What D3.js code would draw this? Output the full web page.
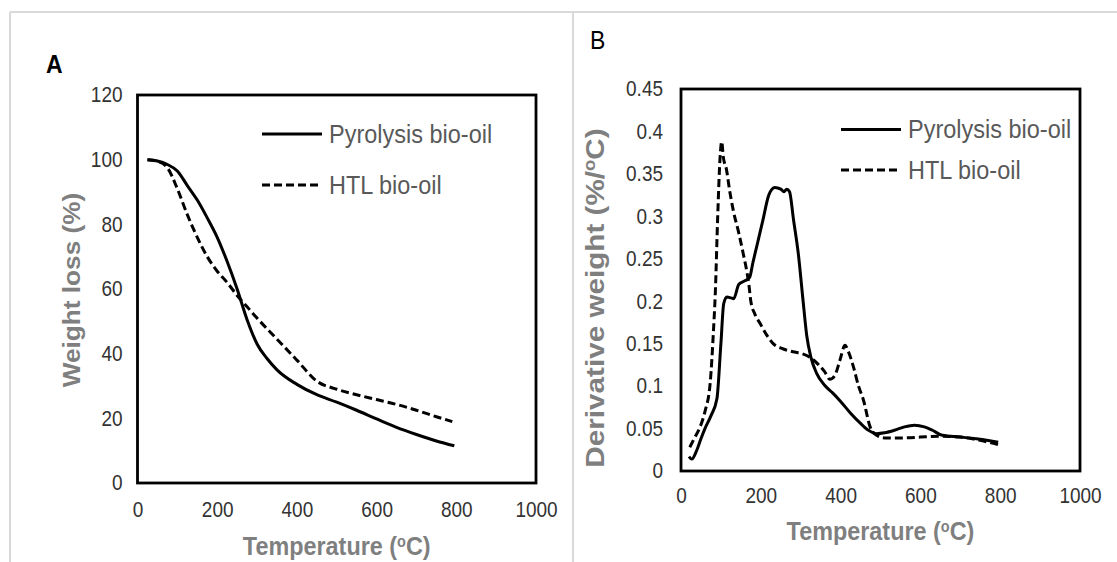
<!DOCTYPE html>
<html>
<head>
<meta charset="utf-8">
<script src="https://cdn.jsdelivr.net/npm/d3@7"></script>
<style>
  body { margin: 0; background: #fff; }
  svg { display: block; font-family: "Liberation Sans", Arial, sans-serif; }
</style>
</head>
<body>
<script>
//-----------------Data----------------
const xTicks = [0, 200, 400, 600, 800, 1000];
const lossTicks = [0, 20, 40, 60, 80, 100, 120];
const dtgTicks = [0, 0.05, 0.1, 0.15, 0.2, 0.25, 0.3, 0.35, 0.4, 0.45];
const seriesNames = ["Pyrolysis bio-oil", "HTL bio-oil"];

// panel A: weight loss (%) vs temperature
const pyroLoss = [[25,100],[50,99.6],[75,98.5],[100,96.5],[125,92],[150,87.5],[175,82],[200,76],[225,68.5],[250,60],[275,50.5],[300,43],[325,38.5],[350,35],[400,30.5],[450,27.3],[500,25],[550,22.5],[600,19.8],[650,17.2],[700,15],[750,13],[795,11.5]];
const htlLoss = [[25,100],[50,99.5],[75,97.5],[100,91],[125,83],[150,76],[175,70],[200,65.5],[225,62],[250,58],[275,54.5],[300,51],[350,44.5],[400,38],[450,31.5],[500,29],[550,27.3],[600,25.8],[650,24.3],[700,22.5],[750,20.5],[790,19]];

// panel B: derivative weight (%/oC) vs temperature
const pyroDtg = [[20,0.017],[27,0.014],[40,0.025],[50,0.038],[60,0.05],[75,0.065],[90,0.085],[100,0.15],[107,0.197],[115,0.205],[125,0.204],[132,0.203],[145,0.22],[160,0.224],[172,0.228],[180,0.245],[190,0.265],[205,0.295],[220,0.325],[235,0.334],[250,0.332],[258,0.329],[265,0.332],[272,0.329],[282,0.296],[294,0.256],[305,0.205],[315,0.16],[325,0.135],[340,0.115],[360,0.101],[380,0.092],[400,0.082],[425,0.068],[450,0.056],[470,0.048],[490,0.044],[510,0.045],[535,0.048],[560,0.052],[585,0.054],[610,0.052],[630,0.048],[655,0.042],[700,0.04],[740,0.038],[770,0.036],[795,0.034]];
const htlDtg = [[22,0.028],[35,0.04],[48,0.052],[60,0.07],[73,0.103],[81,0.162],[86,0.21],[92,0.3],[98,0.37],[102,0.388],[106,0.37],[114,0.355],[122,0.33],[131,0.307],[145,0.28],[156,0.256],[165,0.235],[170,0.22],[175,0.2],[185,0.185],[198,0.174],[215,0.16],[231,0.15],[255,0.144],[281,0.1405],[305,0.138],[323,0.134],[345,0.125],[360,0.117],[373,0.108],[385,0.112],[398,0.13],[411,0.148],[420,0.14],[432,0.123],[445,0.1],[457,0.084],[474,0.052],[490,0.042],[510,0.039],[560,0.039],[600,0.04],[650,0.041],[700,0.04],[740,0.037],[770,0.034],[795,0.031]];

//-----------------Setup----------------
const width = 1117, height = 562;
const sy = 1.12; // the picture's text is a bit stretched vertically

const svg = d3.select("body").append("svg").attr("width", width).attr("height", height);

// light gray chart-area frames
const frame = svg.append("g").attr("stroke", "#d9d9d9").attr("stroke-width", 2).attr("fill", "none");
frame.append("line").attr("x1", 10).attr("x2", width).attr("y1", 12).attr("y2", 12);
frame.append("line").attr("x1", 10).attr("x2", 10).attr("y1", 12).attr("y2", height);
frame.append("line").attr("x1", 573).attr("x2", 573).attr("y1", 12).attr("y2", height);

function addText(x, y, txt, size, opts = {}) {
  const t = svg.append("text")
    .attr("transform", `translate(${x},${y})` + (opts.rotate ? ` rotate(-90) scale(${sy},1)` : ` scale(1,${sy})`))
    .attr("text-anchor", opts.anchor || "start")
    .attr("font-size", size)
    .attr("font-weight", opts.bold ? "bold" : "normal")
    .attr("fill", opts.color || "#000");
  if (opts.sup) {
    t.append("tspan").text(txt[0]);
    t.append("tspan").attr("baseline-shift", "super").attr("font-size", size * 0.62).text(txt[1]);
    t.append("tspan").text(txt[2]);
  } else {
    t.text(txt);
  }
  return t;
}

function buildPanel(p) {
  const x = d3.scaleLinear().domain([0, 1000]).range([p.left, p.right]);
  const y = d3.scaleLinear().domain([0, p.yTicks[p.yTicks.length - 1]]).range([p.bottom, p.top]);

  const xAxis = svg.append("g").attr("transform", `translate(0,${p.bottom})`)
    .call(d3.axisBottom(x).tickValues(xTicks).tickSize(0).tickPadding(p.xPad).tickFormat(d3.format("d")));
  const yAxis = svg.append("g").attr("transform", `translate(${p.left},0)`)
    .call(d3.axisLeft(y).tickValues(p.yTicks).tickSize(0).tickPadding(p.yPad).tickFormat(d => String(+d.toFixed(2))));
  [xAxis, yAxis].forEach(a => {
    a.select(".domain").remove();
    a.selectAll("text")
      .attr("font-family", "Liberation Sans, Arial, sans-serif")
      .attr("font-size", 19)
      .attr("fill", "#333")
      .attr("transform", `scale(1,${sy})`);
  });

  const line = d3.line().x(d => x(d[0])).y(d => y(d[1])).curve(d3.curveMonotoneX);
  svg.append("path").datum(p.series[0]).attr("d", line)
    .attr("fill", "none").attr("stroke", "#000").attr("stroke-width", 3).attr("stroke-linejoin", "round");
  svg.append("path").datum(p.series[1]).attr("d", line)
    .attr("fill", "none").attr("stroke", "#000").attr("stroke-width", 3).attr("stroke-dasharray", "8,4");

  // plot area border
  svg.append("rect")
    .attr("x", p.left).attr("y", p.top)
    .attr("width", p.right - p.left).attr("height", p.bottom - p.top)
    .attr("fill", "none").attr("stroke", "#000").attr("stroke-width", 2.8);

  // legend
  seriesNames.forEach((name, i) => {
    const ly = p.legY[i];
    svg.append("line")
      .attr("x1", p.legX).attr("x2", p.legX + 60).attr("y1", ly).attr("y2", ly)
      .attr("stroke", "#000").attr("stroke-width", 3)
      .attr("stroke-dasharray", i === 1 ? "8,4" : null);
    addText(p.legX + 67, ly + 8.5, name, 23.5, { color: "#595959" });
  });

  addText((p.left + p.right) / 2, p.xTitleY, ["Temperature (", "o", "C)"], 23.4, { bold: true, anchor: "middle", color: "#7f7f7f", sup: true });
  addText(p.yTitleX, p.yTitleY, p.yTitle, p.yTitleSize, { bold: true, anchor: "middle", color: "#7f7f7f", rotate: true, sup: Array.isArray(p.yTitle) });
  addText(p.tagX, p.tagY, p.tag, 23, { bold: p.tagBold });
}

//-----------------Panels----------------
buildPanel({
  left: 137.5, right: 536, top: 95, bottom: 483,
  yTicks: lossTicks, xPad: 17, yPad: 15,
  series: [pyroLoss, htlLoss],
  legX: 262, legY: [134, 185],
  xTitleY: 555, yTitleX: 80, yTitleY: 290, yTitle: "Weight loss (%)", yTitleSize: 23.4,
  tag: "A", tagX: 46, tagY: 73, tagBold: true
});

buildPanel({
  left: 681, right: 1080, top: 89, bottom: 471,
  yTicks: dtgTicks, xPad: 15, yPad: 18,
  series: [pyroDtg, htlDtg],
  legX: 841, legY: [129.5, 170],
  xTitleY: 540, yTitleX: 604, yTitleY: 298, yTitle: ["Derivative weight  (%/", "o", "C)"], yTitleSize: 26.5,
  tag: "B", tagX: 590, tagY: 49, tagBold: false
});
</script>
</body>
</html>
